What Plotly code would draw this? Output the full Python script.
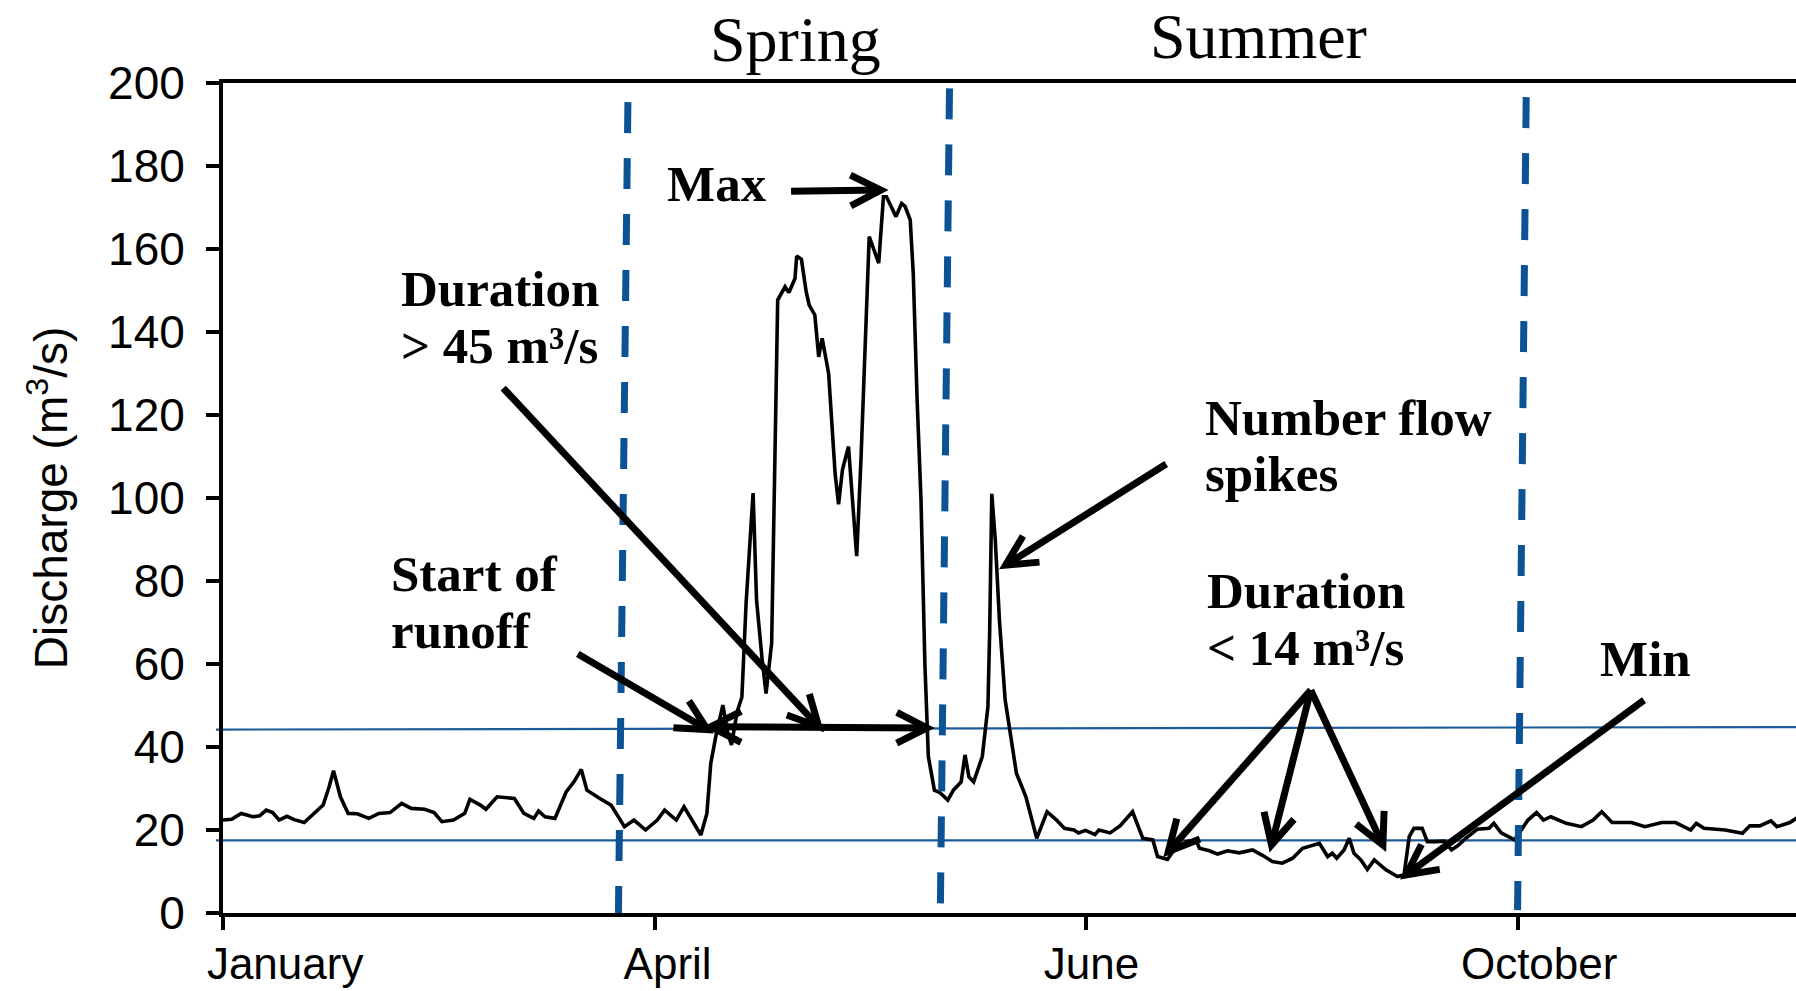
import math
import plotly.graph_objects as go

# ---------------- data ----------------
day = [0, 2, 4.2, 6.9, 8.5, 10, 11.5, 13, 14.8, 16.5, 18.8, 21, 23.2, 24.6, 25.6, 27.2, 29,
       31.1, 33.8, 36.1, 38.7, 41.4, 43.6, 46.7, 48.9, 50.7, 53.4, 56, 57.2, 59.6, 60.9,
       63.5, 67.5, 69.7, 72, 73.1, 74.6, 76.9, 79.5, 81.3, 83.0, 84.3, 86.6, 87.3, 89.9,
       91.5, 93, 95.2, 97.9, 100.6, 102.3, 105, 106.8, 110.7, 112.1, 113, 114.3, 115.8,
       116.9, 117.8, 119.1, 120.2, 121.2, 122.8, 123.6, 124.9, 125.8, 127.1, 128.5, 130.2,
       131.1, 132.5, 132.9, 134, 135.1, 135.8, 137.1, 138, 138.8, 140.3, 140.9, 141.8,
       142.6, 143.5, 144.9, 146.8, 147.8, 149.1, 149.7, 151.9, 153, 153.7, 155.9, 157.2,
       158, 159.2, 159.9, 160.8, 161.7, 162.6, 163.4, 164.8, 166.1, 167.9, 169.2, 171,
       171.9, 172.8, 173.9, 175.9, 177.2, 177.6, 178.1, 178.9, 179.9, 181.2, 183.8, 186,
       187.5, 188.5, 190.9, 193.1, 194.9, 197.1, 198.2, 199.8, 202, 202.9, 205.5, 207.8,
       210.7, 213.1, 215.4, 216.5, 218.8, 220.4, 223.1, 225.4, 226.2, 228.5, 230.4, 232.7,
       235.4, 238.5, 240.8, 243.1, 245.4, 247.8, 250.1, 253.2, 254, 255.9, 257, 258, 259.7,
       260.9, 262, 263.6, 265.1, 266.7, 269.4, 272.1, 273.6, 274.8, 275.9, 277.8, 279,
       280.9, 282.9, 284.6, 286, 287.9, 290.6, 293.3, 294.4, 296.1, 299.2, 302.3, 304.3,
       305.9, 307.6, 311.2, 314.7, 317.4, 319.4, 321.8, 326.3, 329.4, 333.3, 336.5, 340,
       341.3, 343.1, 348, 352, 353.7, 356, 358.6, 360, 363, 365]
discharge = [22.4, 22.6, 24.0, 23.2, 23.4, 24.8, 24.2, 22.4, 23.3, 22.5, 21.8, 24.0, 26.0,
             30.5, 34.3, 28.0, 24.0, 23.9, 22.8, 24.0, 24.2, 26.4, 25.2, 25.0, 24.2, 22.0,
             22.4, 24.0, 27.4, 26.0, 25.0, 28.0, 27.6, 24.0, 22.8, 24.6, 23.2, 22.8, 29.2,
             31.6, 34.6, 29.6, 28.0, 27.6, 26.0, 23.5, 20.8, 22.4, 20.0, 22.4, 24.8, 22.4,
             25.6, 18.8, 24.0, 36.1, 43.3, 50.1, 43.5, 40.5, 48.5, 52.0, 75.0, 101.2, 75.4,
             61.0, 52.9, 65.0, 147.7, 150.9, 149.5, 152.9, 158.3, 157.5, 149.7, 146.5, 144.1,
             134.0, 138.5, 130.0, 119.6, 105.9, 98.5, 106.8, 112.4, 86.0, 109.5, 148.0, 163.0,
             156.6, 172.6, 172.6, 167.8, 171.0, 170.3, 167.0, 154.2, 123.6, 99.5, 60.0, 37.7,
             29.6, 29.0, 27.2, 29.6, 31.6, 38.1, 32.8, 31.6, 37.7, 49.7, 67.4, 101.0, 90.0,
             70.0, 51.3, 33.7, 28.0, 22.0, 18.0, 24.4, 22.4, 20.4, 20.0, 19.3, 19.9, 18.9,
             20.0, 19.3, 21.0, 24.4, 18.0, 17.6, 13.6, 12.9, 15.3, 17.2, 17.6, 15.6, 15.0,
             14.2, 15.0, 14.5, 15.2, 13.9, 12.4, 12.0, 13.2, 15.6, 16.6, 16.8, 13.6, 14.4,
             13.2, 15.2, 18.0, 14.4, 12.8, 10.5, 12.8, 10.4, 8.8, 9.2, 18.4, 20.4, 20.4, 17.2,
             17.2, 17.3, 15.2, 16.2, 18.0, 20.2, 20.4, 21.6, 19.3, 17.6, 22.4, 24.2, 22.4,
             23.2, 21.6, 20.8, 22.4, 24.4, 21.8, 21.8, 20.8, 21.8, 21.8, 20.0, 21.6, 20.4,
             20.0, 19.2, 21.0, 21.0, 22.2, 20.8, 21.8, 23.2]

y_ticks = [0, 20, 40, 60, 80, 100, 120, 140, 160, 180, 200]
x_tick_days = [0, 100, 200, 300]
month_labels = ["January", "April", "June", "October"]
month_label_days = [14.4, 103.0, 201.2, 304.9]

# threshold lines (value at left edge, value at right edge)
high_threshold = [44.2, 44.8]
low_threshold = [17.5, 17.5]

# season boundaries: (day_top, value_top, day_bottom, value_bottom)
season_bounds = [(93.8, 195.4, 91.6, -0.5),
                 (168.3, 198.7, 166.2, 2.3),
                 (301.9, 196.6, 299.9, 0.7)]

# annotation arrows: (start_day, start_val, tip_day, tip_val, double_headed)
arrows = [(131.6, 173.9, 152.4, 174.2, False),   # Max
          (64.9, 126.5, 138.0, 44.9, False),     # Duration > 45
          (113.0, 44.9, 163.1, 44.6, True),      # duration span
          (82.2, 62.4, 112.2, 44.2, False),      # start of runoff
          (218.5, 108.2, 181.3, 83.8, False),    # flow spikes
          (252.0, 53.7, 219.0, 14.8, False),     # duration < 14 (a)
          (252.0, 53.7, 242.9, 16.4, False),     # (b)
          (252.0, 53.7, 268.7, 16.4, False),     # (c)
          (329.2, 51.3, 274.1, 9.2, False)]      # Min

# ---------------- geometry ----------------
W, H = 1796, 991
ML, MR, MT, MB = 223, 0, 83, 78
PW, PH = W - ML - MR, H - MT - MB
X_MAX = 364.4
Y_MAX = 200
KX = PW / X_MAX
KY = PH / Y_MAX


def paper(px, py):
    return (px - ML) / PW, (H - MB - py) / PH


fig = go.Figure()

fig.add_trace(go.Scatter(x=day, y=discharge, mode="lines",
                         line=dict(color="black", width=3.6),
                         showlegend=False, hoverinfo="skip"))
# carrier trace for the month-label axis
fig.add_trace(go.Scatter(x=month_label_days, y=[None] * len(month_label_days),
                         xaxis="x2", mode="lines", showlegend=False, hoverinfo="skip"))

shapes = []
blue_thin = "#1d5a98"
for left, right in (high_threshold, low_threshold):
    shapes.append(dict(type="line", xref="paper", yref="y", x0=-0.0045, x1=1.0,
                       y0=left, y1=right, line=dict(color=blue_thin, width=2.2),
                       layer="below"))
for dt, vt, db, vb in season_bounds:
    shapes.append(dict(type="line", xref="x", yref="y", x0=dt, y0=vt, x1=db, y1=vb,
                       line=dict(color="#0b5394", width=7, dash="31px,25px")))

HEAD_LEN, HEAD_ANG = 34, math.radians(27)


def head(sd, sv, td, tv):
    dx = (td - sd) * KX
    dy = -(tv - sv) * KY
    back = math.atan2(-dy, -dx)
    pts = []
    for s in (1, -1):
        a = back + s * HEAD_ANG
        pts.append((td + HEAD_LEN * math.cos(a) / KX, tv - HEAD_LEN * math.sin(a) / KY))
    (a1d, a1v), (a2d, a2v) = pts
    return f"M {a1d},{a1v} L {td},{tv} L {a2d},{a2v}"


for sd, sv, td, tv, dbl in arrows:
    shapes.append(dict(type="line", xref="x", yref="y", x0=sd, y0=sv, x1=td, y1=tv,
                       line=dict(color="black", width=7)))
    shapes.append(dict(type="path", xref="x", yref="y", path=head(sd, sv, td, tv),
                       line=dict(color="black", width=7)))
    if dbl:
        shapes.append(dict(type="path", xref="x", yref="y", path=head(td, tv, sd, sv),
                           line=dict(color="black", width=7)))

# ---------------- text ----------------
annotations = []
bold_font = dict(family="Liberation Serif, Times New Roman, serif", size=51,
                 color="black", weight="bold")
# (text, left_px, baseline_px)
notes = [("Max", 666, 201.7),
         ("Duration", 400, 306.7),
         ("&gt; 45 m³/s", 400, 363),
         ("Start of", 390, 591.7),
         ("runoff", 390, 648.3),
         ("Number flow", 1204, 435),
         ("spikes", 1204, 491.7),
         ("Duration", 1206, 608.3),
         ("&lt; 14 m³/s", 1206, 665),
         ("Min", 1599, 676.7)]
for txt, lx, base in notes:
    xp, yp = paper(lx, base - 0.34 * bold_font["size"])
    annotations.append(dict(text=txt, xref="paper", yref="paper", x=xp, y=yp,
                            xanchor="left", yanchor="middle", showarrow=False,
                            borderpad=0, font=bold_font))

season_font = dict(family="Liberation Serif, Times New Roman, serif", size=64, color="black")
for txt, cx, base in (("Spring", 795, 61), ("Summer", 1258, 58)):
    xp, yp = paper(cx, base - 0.34 * season_font["size"])
    annotations.append(dict(text=txt, xref="paper", yref="paper", x=xp, y=yp,
                            xanchor="center", yanchor="middle", showarrow=False,
                            borderpad=0, font=season_font))

axis_font = dict(family="Arial, Liberation Sans, sans-serif", size=44, color="black")
ytick_font = dict(family="Arial, Liberation Sans, sans-serif", size=46, color="black")
ytitle_font = dict(family="Arial, Liberation Sans, sans-serif", size=46, color="black")

fig.update_layout(
    width=W, height=H,
    margin=dict(l=ML, r=MR, t=MT, b=MB, pad=0, autoexpand=False),
    paper_bgcolor="white", plot_bgcolor="white",
    showlegend=False,
    shapes=shapes,
    annotations=annotations,
    xaxis=dict(range=[0, X_MAX], tickmode="array", tickvals=x_tick_days,
               showticklabels=False, ticks="outside", ticklen=13, tickwidth=4,
               tickcolor="black", showline=True, linewidth=4, linecolor="black",
               mirror=True, showgrid=False, zeroline=False, automargin=False),
    xaxis2=dict(range=[0, X_MAX], overlaying="x", side="bottom", anchor="y",
                tickmode="array", tickvals=month_label_days, ticktext=month_labels,
                ticks="", showline=False, showgrid=False, zeroline=False,
                tickfont=axis_font, ticklabelstandoff=21, automargin=False),
    yaxis=dict(range=[0, Y_MAX], tickmode="array", tickvals=y_ticks,
               ticks="outside", ticklen=13, tickwidth=4, tickcolor="black",
               showline=True, linewidth=4, linecolor="black", showgrid=False,
               zeroline=False, tickfont=ytick_font, ticklabelstandoff=12,
               automargin=False,
               title=dict(text="Discharge (m<sup>3</sup>/s)", font=ytitle_font, standoff=27)),
)

fig.write_html("out.html")
